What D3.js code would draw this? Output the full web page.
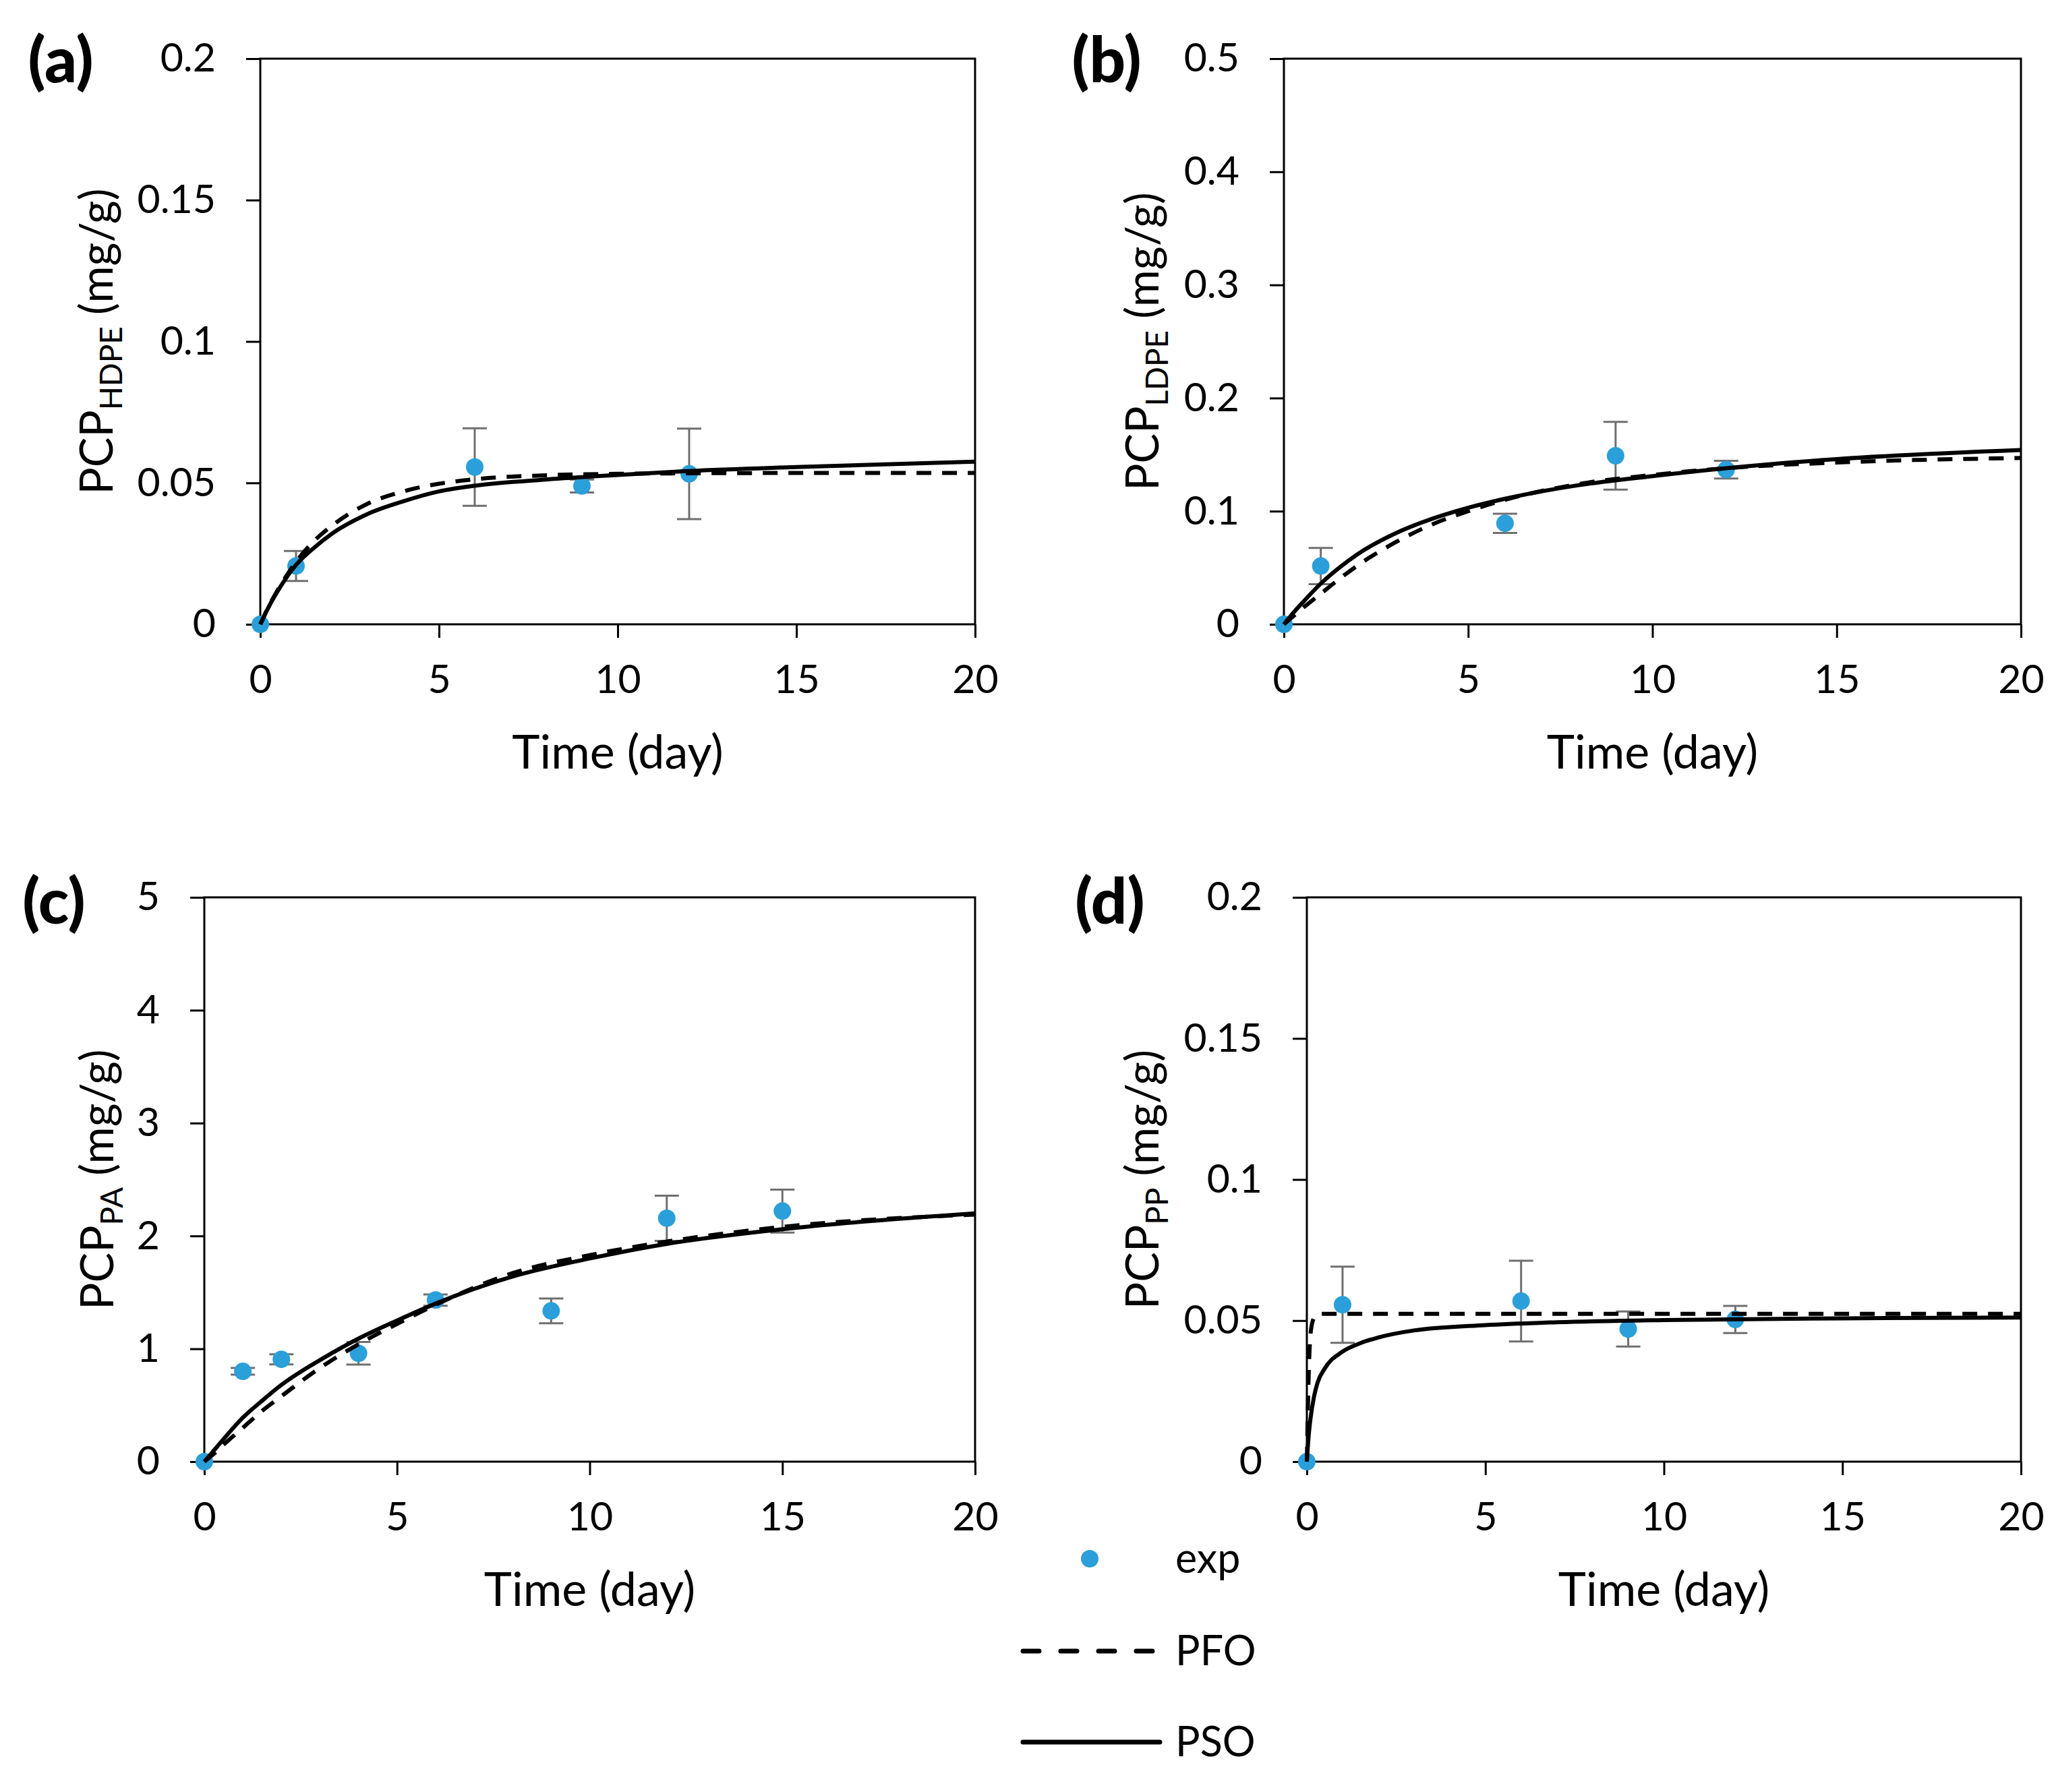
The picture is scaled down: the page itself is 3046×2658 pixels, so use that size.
<!DOCTYPE html>
<html>
<head>
<meta charset="utf-8">
<script src="https://cdnjs.cloudflare.com/ajax/libs/d3/7.8.5/d3.min.js"></script>
<style>
  body { margin: 0; background: #fff; }
  text { font-family: Lato, "Open Sans", sans-serif; fill: #000; }
</style>
</head>
<body>
<svg id="chart" width="3046" height="2658"></svg>
<script>
// ---- data ----
const xTicks = [0, 5, 10, 15, 20];

// (a) HDPE
const hdpeDay = [0, 1, 6, 9, 12];
const hdpeExp = [0, 0.0206, 0.0556, 0.0489, 0.0532];
const hdpeErr = [0, 0.0053, 0.0137, 0.0023, 0.016];
const hdpeFitDay = [0, 0.25, 0.5, 1, 1.5, 2, 3, 4, 5, 6, 8, 10, 12, 15, 20];
const hdpePFO = [0, 0.0067, 0.0124, 0.0221, 0.0294, 0.0348, 0.0426, 0.047, 0.0497, 0.0513, 0.0527, 0.0532, 0.0534, 0.0535, 0.0535];
const hdpePSO = [0, 0.0065, 0.012, 0.021, 0.027, 0.032, 0.039, 0.0435, 0.047, 0.049, 0.0512, 0.0528, 0.0542, 0.0556, 0.0575];
const hdpeTicks = [0, 0.05, 0.1, 0.15, 0.2];

// (b) LDPE
const ldpeDay = [0, 1, 6, 9, 12];
const ldpeExp = [0, 0.0515, 0.0893, 0.149, 0.1367];
const ldpeErr = [0, 0.016, 0.0085, 0.03, 0.0078];
const ldpeFitDay = [0, 0.25, 0.5, 1, 1.5, 2, 3, 4, 5, 6, 8, 10, 12, 15, 20];
const ldpePFO = [0, 0.007, 0.014, 0.027, 0.04, 0.052, 0.072, 0.088, 0.1, 0.11, 0.124, 0.132, 0.138, 0.143, 0.147];
const ldpePSO = [0, 0.01, 0.019, 0.036, 0.05, 0.062, 0.08, 0.093, 0.103, 0.111, 0.123, 0.131, 0.138, 0.146, 0.154];
const ldpeTicks = [0, 0.1, 0.2, 0.3, 0.4, 0.5];

// (c) PA
const paDay = [0, 1, 2, 4, 6, 9, 12, 15];
const paExp = [0, 0.8, 0.907, 0.96, 1.432, 1.336, 2.157, 2.22];
const paErr = [0, 0.03, 0.045, 0.1, 0.05, 0.11, 0.2, 0.19];
const paFitDay = [0, 0.25, 0.5, 1, 1.5, 2, 3, 4, 5, 6, 8, 10, 12, 15, 20];
const paPFO = [0, 0.07, 0.15, 0.3, 0.45, 0.58, 0.83, 1.04, 1.22, 1.39, 1.67, 1.83, 1.95, 2.08, 2.19];
const paPSO = [0, 0.1, 0.2, 0.39, 0.54, 0.68, 0.9, 1.09, 1.25, 1.4, 1.64, 1.8, 1.93, 2.06, 2.2];
const paTicks = [0, 1, 2, 3, 4, 5];

// (d) PP
const ppDay = [0, 1, 6, 9, 12];
const ppExp = [0, 0.0556, 0.0569, 0.047, 0.0504];
const ppErr = [0, 0.0135, 0.0143, 0.0062, 0.0048];
const ppFitDay = [0, 0.05, 0.1, 0.2, 0.3, 0.5, 1, 1.5, 2, 3, 5, 7, 10, 15, 20];
const ppPFO = [0, 0.03, 0.045, 0.051, 0.0522, 0.0524, 0.0524, 0.0524, 0.0524, 0.0524, 0.0524, 0.0524, 0.0524, 0.0524, 0.0524];
const ppPSO = [0, 0.009, 0.015, 0.023, 0.028, 0.033, 0.039, 0.042, 0.044, 0.0465, 0.0484, 0.0494, 0.0502, 0.0508, 0.0511];
const ppTicks = [0, 0.05, 0.1, 0.15, 0.2];

const legendNames = ['exp', 'PFO', 'PSO'];

// ---- layout ----
const panels = [
  { tag: '(a)', sub: 'HDPE', day: hdpeDay, exp: hdpeExp, err: hdpeErr, fitDay: hdpeFitDay, pfo: hdpePFO, pso: hdpePSO, ticks: hdpeTicks,
    box: { l: 386, r: 1446, t: 87, b: 926 }, tagX: 90, tagY: 122, titleX: 167 },
  { tag: '(b)', sub: 'LDPE', day: ldpeDay, exp: ldpeExp, err: ldpeErr, fitDay: ldpeFitDay, pfo: ldpePFO, pso: ldpePSO, ticks: ldpeTicks,
    box: { l: 1904, r: 2997, t: 87, b: 926 }, tagX: 1641, tagY: 122, titleX: 1718 },
  { tag: '(c)', sub: 'PA', day: paDay, exp: paExp, err: paErr, fitDay: paFitDay, pfo: paPFO, pso: paPSO, ticks: paTicks,
    box: { l: 303, r: 1446, t: 1331, b: 2168 }, tagX: 80, tagY: 1370, titleX: 168 },
  { tag: '(d)', sub: 'PP', day: ppDay, exp: ppExp, err: ppErr, fitDay: ppFitDay, pfo: ppPFO, pso: ppPSO, ticks: ppTicks,
    box: { l: 1938, r: 2997, t: 1331, b: 2168 }, tagX: 1646, tagY: 1370, titleX: 1718 }
];

const blue = '#2b9fd9';
const errGrey = '#6f6f6f';
const svg = d3.select('#chart');
svg.append('rect').attr('width', 3046).attr('height', 2658).attr('fill', '#fff');

panels.forEach(function(p) {
  const bx = p.box;
  const x = d3.scaleLinear().domain([0, 20]).range([bx.l, bx.r]);
  const y = d3.scaleLinear().domain([0, d3.max(p.ticks)]).range([bx.b, bx.t]);
  const g = svg.append('g');

  // axes (ticks + labels)
  const xa = g.append('g').attr('transform', 'translate(0,' + bx.b + ')')
    .call(d3.axisBottom(x).tickValues(xTicks).tickSize(20).tickPadding(40).tickFormat(d3.format('d')));
  const ya = g.append('g').attr('transform', 'translate(' + bx.l + ',0)')
    .call(d3.axisLeft(y).tickValues(p.ticks).tickSize(21).tickPadding(45).tickFormat(function(d) { return String(d); }));
  [xa, ya].forEach(function(a) {
    a.select('.domain').remove();
    a.selectAll('line').attr('stroke', '#000').attr('stroke-width', 3);
    a.selectAll('text').style('font-family', 'Lato').style('font-size', '59px').attr('fill', '#000');
  });

  // frame
  g.append('rect').attr('x', bx.l).attr('y', bx.t)
    .attr('width', bx.r - bx.l).attr('height', bx.b - bx.t)
    .attr('fill', 'none').attr('stroke', '#000').attr('stroke-width', 3);

  // error bars
  const pts = p.day.map(function(d, i) { return { t: d, v: p.exp[i], e: p.err[i] }; });
  const eb = g.append('g').attr('stroke', errGrey).attr('stroke-width', 3);
  pts.filter(function(d) { return d.e > 0; }).forEach(function(d) {
    const cx = x(d.t);
    eb.append('line').attr('x1', cx).attr('x2', cx).attr('y1', y(d.v - d.e)).attr('y2', y(d.v + d.e));
    eb.append('line').attr('x1', cx - 18).attr('x2', cx + 18).attr('y1', y(d.v - d.e)).attr('y2', y(d.v - d.e));
    eb.append('line').attr('x1', cx - 18).attr('x2', cx + 18).attr('y1', y(d.v + d.e)).attr('y2', y(d.v + d.e));
  });

  // points
  g.append('g').selectAll('circle').data(pts).join('circle')
    .attr('cx', function(d) { return x(d.t); })
    .attr('cy', function(d) { return y(d.v); })
    .attr('r', 13).attr('fill', blue);

  // fitted curves
  const line = d3.line()
    .x(function(d) { return x(d[0]); })
    .y(function(d) { return y(d[1]); })
    .curve(d3.curveMonotoneX);
  g.append('path').datum(p.fitDay.map(function(t, i) { return [t, p.pfo[i]]; }))
    .attr('d', line).attr('fill', 'none').attr('stroke', '#000')
    .attr('stroke-width', 6).attr('stroke-dasharray', '22,16');
  g.append('path').datum(p.fitDay.map(function(t, i) { return [t, p.pso[i]]; }))
    .attr('d', line).attr('fill', 'none').attr('stroke', '#000')
    .attr('stroke-width', 6);

  // axis titles
  g.append('text').attr('x', (bx.l + bx.r) / 2).attr('y', bx.b + 214)
    .attr('text-anchor', 'middle').style('font-size', '70px').text('Time (day)');
  const yt = g.append('text')
    .attr('transform', 'translate(' + p.titleX + ',' + (bx.t + bx.b) / 2 + ') rotate(-90)')
    .attr('text-anchor', 'middle').style('font-size', '67px');
  yt.append('tspan').text('PCP');
  yt.append('tspan').attr('dy', 14).style('font-size', '46px').text(p.sub);
  yt.append('tspan').attr('dy', -14).text(' (mg/g)');

  // panel tag
  g.append('text').attr('x', p.tagX).attr('y', p.tagY).attr('text-anchor', 'middle')
    .style('font-size', '94px').style('font-weight', '900').text(p.tag);
});

// ---- legend ----
const lg = svg.append('g');
const legY = [2312, 2449, 2584];
lg.append('circle').attr('cx', 1616).attr('cy', legY[0]).attr('r', 13).attr('fill', blue);
lg.append('line').attr('x1', 1517).attr('x2', 1712).attr('y1', legY[1]).attr('y2', legY[1])
  .attr('stroke', '#000').attr('stroke-width', 7).attr('stroke-linecap', 'round').attr('stroke-dasharray', '24,32');
lg.append('line').attr('x1', 1517).attr('x2', 1720).attr('y1', legY[2]).attr('y2', legY[2])
  .attr('stroke', '#000').attr('stroke-width', 7).attr('stroke-linecap', 'round');
legendNames.forEach(function(n, i) {
  lg.append('text').attr('x', 1743).attr('y', legY[i]).attr('dy', '0.35em')
    .style('font-size', '61px').text(n);
});
</script>
</body>
</html>
